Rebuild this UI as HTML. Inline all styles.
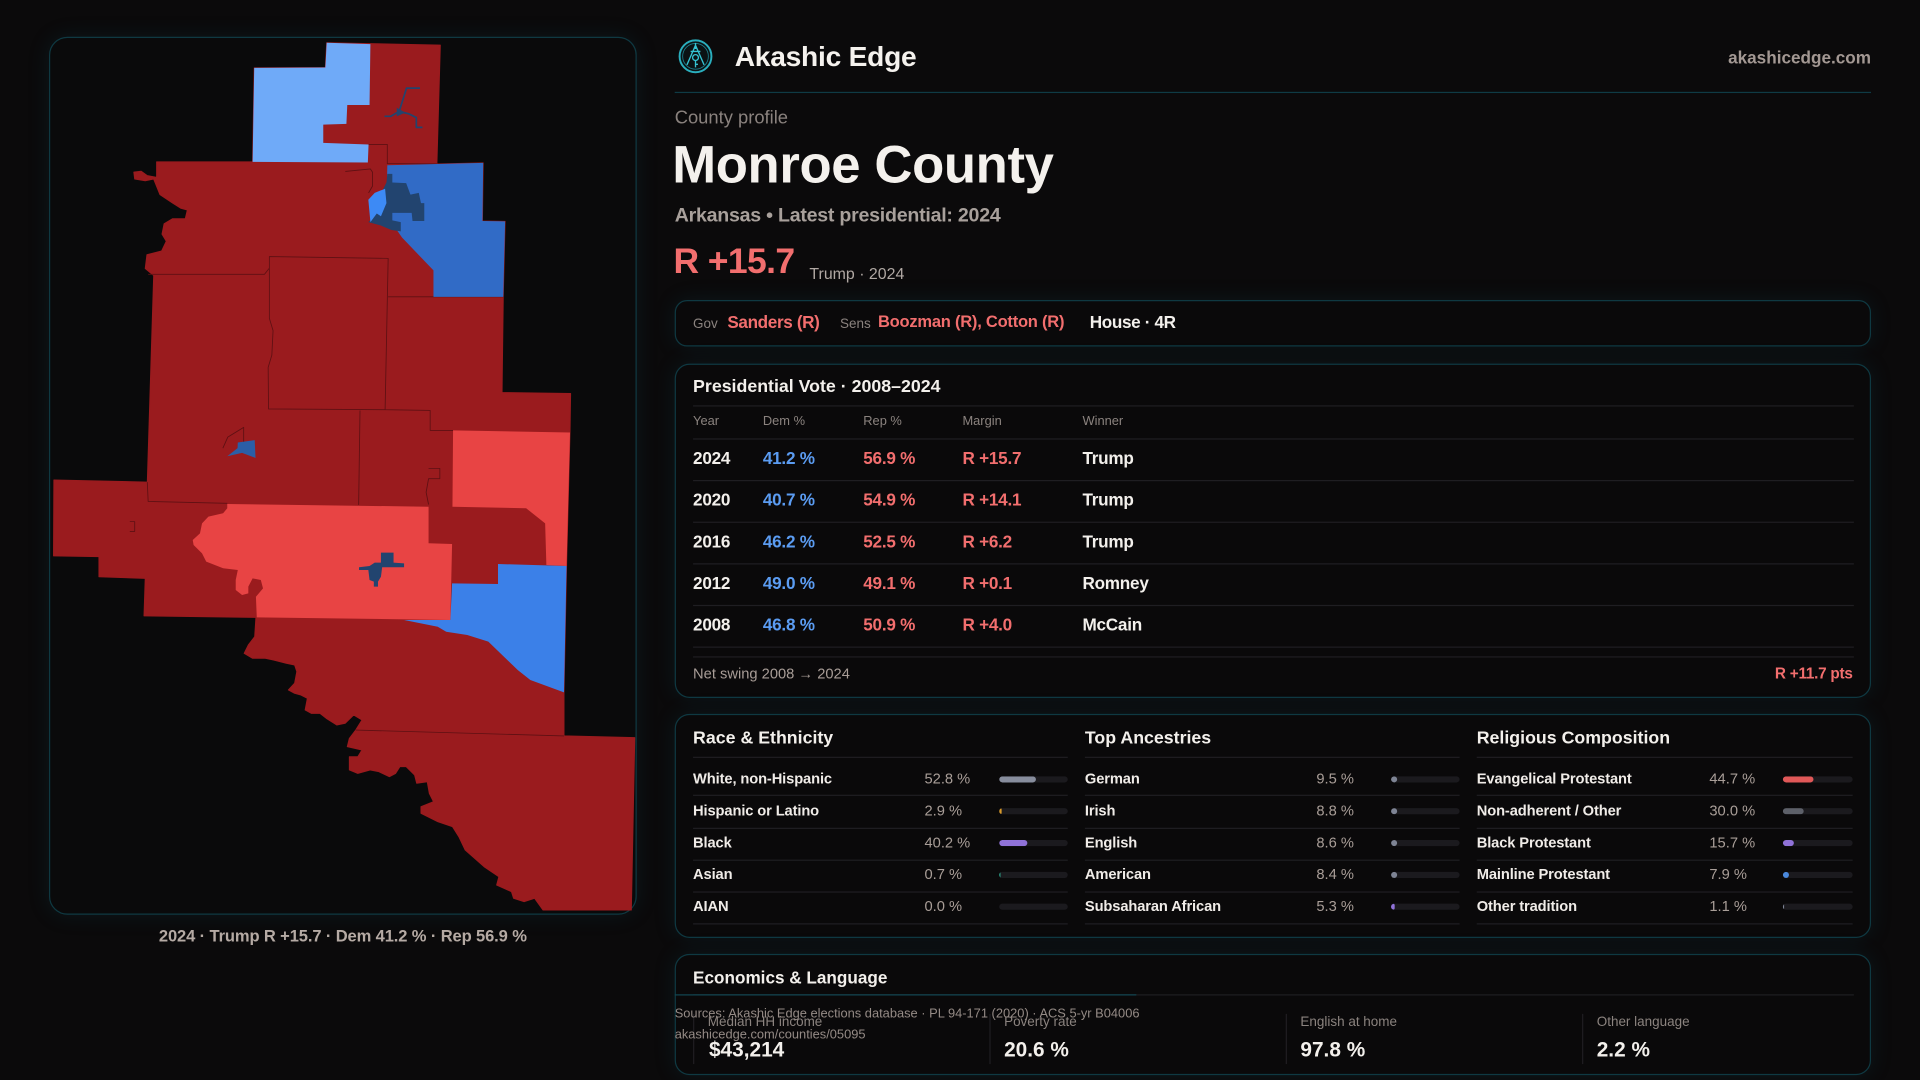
<!DOCTYPE html>
<html><head><meta charset="utf-8">
<style>
html,body{margin:0;padding:0;background:#0b0a0b;width:1920px;height:1080px;overflow:hidden}
#root{position:absolute;left:0;top:0;width:1568px;height:882px;transform:scale(1.2244898);transform-origin:0 0;font-family:"Liberation Sans",sans-serif;color:#f3f0ec}
.t{position:absolute;white-space:nowrap;line-height:1}
.b{font-weight:bold}
.box{position:absolute;box-sizing:border-box;border:1px solid #0f3942;border-radius:12px;background:#0a090a;box-shadow:0 0 18px rgba(20,95,110,0.16)}
.ln{position:absolute;height:1px;background:#1f1e22}
.red{color:#f26e6e}
.blue{color:#5b9cf2}
.gry{color:#8b837f}
.hd{font-size:10.5px;color:#8b837f}
.row{font-size:14px;font-weight:bold;letter-spacing:-0.2px}
.lbl{font-size:12px;font-weight:bold;color:#f0ece8;letter-spacing:-0.1px}
.val{font-size:12px;color:#a99e98}
.bar{position:absolute;width:56px;height:5px;border-radius:3px;background:#1b1a1e;overflow:hidden}
.bar i{display:block;height:100%;border-radius:3px;min-width:1px}
.cell{position:absolute;top:828px;height:41px;border-left:1px solid #1f1e22;width:241px}
.sl{font-size:11px;color:#8b837f}
.sv{font-size:17px;font-weight:bold;color:#f3f0ec}
.src{font-size:10.5px;color:#958b86}
</style></head>
<body><div id="root">

<!-- Map panel -->
<div class="box" style="left:40px;top:30px;width:480px;height:717px;border-radius:15px;background:#0a0a0b"></div>
<svg style="position:absolute;left:0;top:0" width="1568" height="882" viewBox="0 0 1568 882">
 <g stroke-linejoin="round">
 <path fill="#9a1b1e" stroke="#9a1b1e" stroke-width="0.8" d="M207.6,55.4 L265.7,55.1 L266.8,34.9 L359.6,36.8 L356.8,133.9 L394.6,133 L394,180.5 L412.5,180.8 L411,242.4 L410,320.6 L466,321.4 L465.5,353.2 L462.7,462.2 L460.6,565.4 L460.6,601 L518.4,602.4 L515.6,743.2 L443.5,743.2 L436.6,733.6 L428,736.4 L419.4,733.6 L417.7,728.2 L405.6,722.8 L407.4,716 L395.3,707.8 L379.9,694.2 L374.7,683.3 L369.5,675.1 L357.5,671 L343.8,664.2 L343.8,658.8 L354,654.7 L350.6,647.9 L348.9,638.4 L340.3,639.7 L338.6,632.9 L331.7,626.1 L326.6,626.1 L323.1,631.6 L318,634.3 L309.4,630.2 L302.5,628.8 L292.2,631.6 L285.3,628.8 L285.3,618 L292.2,618 L295.6,612.5 L283.6,609.8 L285.3,603 L290.5,596.2 L295.6,588 L288.8,583.9 L281.9,590.7 L275,592.1 L266.4,586.6 L261.3,582.6 L254.4,582.6 L249.2,579.8 L251,570.3 L245.8,567.6 L240.6,566.2 L235.5,563.5 L240.6,558 L242.4,548.5 L240.6,543.1 L233.8,541.7 L223.4,539 L216.6,537.6 L206.3,537.6 L199.4,533.6 L202.8,526.7 L208,520 L209,504.2 L117.6,503 L118.6,472.3 L80.8,471 L80.8,454.6 L43.7,454 L44,392 L120.3,393.7 L125.5,225 L118.6,219.3 L120,208 L132,205 L135.8,197 L132.3,191.2 L134,182.8 L141,178.6 L151.3,178.6 L153,171.5 L147.8,170.1 L141,165.9 L130.6,158.9 L125.5,146.2 L118.6,147.6 L110,146.2 L109.3,140.6 L115.2,139.8 L120.3,143.4 L127.9,144.8 L127.9,132.2 L206.3,132.2 Z"/>
 <!-- internal boundaries -->
 <path fill="none" stroke="#5e1013" stroke-width="0.7" d="M220,209.5 L317,211 L314.5,334.6 L219.3,334 L219,300 L222,290 L223,270 L220,260 Z M121,224 L216,224 L220,219 M317,242.4 L411,242.4 M314.5,334.6 L351.3,335.2 L351.3,351.5 L370,351.5 M294,335.2 L292.9,412.3 M120.3,393.7 L121,409.5 L185.6,411 M350,382.5 L359.2,382.5 L359.2,390.9 L350,390.9 L348,402 L350,412 M301,118 L316.3,118 L316.3,133.6 L356.8,133.9 M282,140 L302.5,138 L304.2,140.6 L304.2,152 L301,157.5 M290.5,596.2 L460.6,601 M182,366 L186,357 L199,349 L199,361 M106,426 L110,426 L110,434 L106,434"/>
 <polygon fill="#6faaf8" points="207.6,55.4 265.7,55.1 266.8,34.9 302.5,36 301.8,85.8 283.6,85.8 282.9,101.2 264,101.8 264,116.7 301,118 300.4,132.7 206.3,132.2"/>
 <polygon fill="#316bc6" points="316.3,135 394.6,133 394,180.5 412.5,180.8 411,242.4 354,242.4 354,220.8 328.3,194 320,182 316,150"/>
 <polygon fill="#22446f" points="316.3,142 320.4,142 320.4,149 331.7,149.6 335.2,158.9 342,157.5 343.8,165.9 346.5,165.9 346.5,180.5 336.9,180.5 336.2,173.8 320.4,173.8 320.4,180 327.3,181.4 327.3,189 319.7,187.8 311.1,184.2 300.8,181.4 307.7,174.4 309.4,163.1 312.8,154.7 315.6,149"/>
 <polygon fill="#3d8af5" points="300.8,163.1 306,157.5 314.5,154.1 315.6,165.9 311.1,176.6 307.7,174.4 302.5,181.4"/>
 <path fill="none" stroke="#23446e" stroke-width="1.4" d="M343,72 L332,72 L326,91 L319,95 L314,95 M326,91 L334,93 L340,96 L340,104 L345,104"/>
 <polygon fill="#23446e" points="324,88 331,92 324,95"/>
 <polygon fill="#e84444" points="370,351.5 465.5,353.2 462.7,462.2 446.2,461.4 445.2,427.4 429.7,415.1 369.5,413.8"/>
 <polygon fill="#e84444" points="185.6,411.6 350,413.8 350,443.7 369.2,444.3 367.8,506.3 209.7,504.2 209,487.3 214.8,480.5 213,473.7 206.3,472.3 202.8,479.1 202.8,484.6 197.7,485.9 192.5,481.8 192.5,473.7 194.2,465.5 182.2,464.1 168.4,458.7 165,451.9 158.1,445.1 157.4,441 163.3,435.6 165,427.4 170.2,421.9 182.2,419.2 185.6,415.1"/>
 <polygon fill="#3b80e8" points="369.2,476.4 406.7,476.9 406.7,460.6 462.7,462.2 460.6,565.4 433.1,555.3 422.8,547.2 398.8,524 381.6,518.6 364.4,515.9 357.5,511.8 330,506.3 367.8,506.3"/>
 <polygon fill="#22446f" points="311.1,451.3 321.4,451.3 321.4,459.5 330,460.1 330,463.3 319.7,463.3 312.1,463.3 311.1,471 308.7,475 308.7,479.1 305.3,479.1 305.3,475 301.8,473.7 300.8,465.5 293.2,465.5 293.2,463.3 301.8,462.2 306,459.5 311.1,459.5"/>
 <polygon fill="#2b5ea6" points="194.2,361.4 208,359.4 208.7,374 197.7,369.8 185.6,372.6 194,366"/>
 </g>
</svg>
<div class="t b" style="left:40px;width:480px;text-align:center;top:758px;font-size:13.5px;color:#b5aaa4;letter-spacing:-0.1px">2024 · Trump R +15.7 · Dem 41.2 % · Rep 56.9 %</div>

<!-- Header -->
<svg style="position:absolute;left:553px;top:31px" width="30" height="30" viewBox="-15 -15 30 30">
 <circle r="13" fill="#0b1214" stroke="#2aaebd" stroke-width="1.6"/>
 <circle r="10.5" fill="none" stroke="#1d7f8c" stroke-width="0.7"/>
 <path d="M0,-9 L-7,7 M0,-9 L7,7 M-4,-4 L4,-4 M0,-11 L0,-6" stroke="#35c3d2" stroke-width="1.1" fill="none"/>
 <circle cx="0" cy="1" r="2.4" fill="none" stroke="#35c3d2" stroke-width="1.1"/>
 <path d="M0,3.4 L0,9 M0,6.5 L2,6.5" stroke="#35c3d2" stroke-width="1.1"/>
</svg>
<div class="t b" style="left:600px;top:34.5px;font-size:23px;letter-spacing:-0.2px;color:#f5f2ee">Akashic Edge</div>
<div class="t b" style="right:40px;top:40px;font-size:14px;color:#a39893">akashicedge.com</div>
<div style="position:absolute;left:551px;top:75px;width:977px;height:1px;background:#0f3b45"></div>

<div class="t" style="left:551px;top:88.5px;font-size:15px;color:#8a827e">County profile</div>
<div class="t b" style="left:549px;top:113.5px;font-size:43px;letter-spacing:-0.3px;color:#f4f1ed">Monroe County</div>
<div class="t b" style="left:551px;top:169px;font-size:16px;color:#a8a09b;letter-spacing:-0.2px">Arkansas • Latest presidential: 2024</div>
<div class="t b red" style="left:550px;top:200px;font-size:29px;letter-spacing:-0.5px;color:#f26e6e">R +15.7</div>
<div class="t" style="left:661px;top:216.5px;font-size:13px;color:#b0a8a3">Trump · 2024</div>

<!-- Gov box -->
<div class="box" style="left:551px;top:245px;width:977px;height:38px;border-radius:10px"></div>
<div class="t gry" style="left:566px;top:259.5px;font-size:11px">Gov</div>
<div class="t b red" style="left:594px;top:256px;font-size:14px;letter-spacing:-0.3px">Sanders (R)</div>
<div class="t gry" style="left:686px;top:259.5px;font-size:11px">Sens</div>
<div class="t b red" style="left:717px;top:256px;font-size:13.5px;letter-spacing:-0.2px">Boozman (R), Cotton (R)</div>
<div class="t b" style="left:890px;top:256px;font-size:14px;letter-spacing:-0.3px;color:#f3f0ec">House · 4R</div>

<!-- Presidential table -->
<div class="box" style="left:551px;top:297px;width:977px;height:273px"></div>
<div class="t b" style="left:566px;top:309px;font-size:14.5px">Presidential Vote · 2008–2024</div>
<div class="ln" style="left:566px;top:331px;width:948px"></div>
<div class="t hd" style="left:566px;top:338.5px">Year</div>
<div class="t hd" style="left:623px;top:338.5px">Dem %</div>
<div class="t hd" style="left:705px;top:338.5px">Rep %</div>
<div class="t hd" style="left:786px;top:338.5px">Margin</div>
<div class="t hd" style="left:884px;top:338.5px">Winner</div>
<div class="ln" style="left:566px;top:358px;width:948px"></div>

<div class="t row" style="left:566px;top:367px">2024</div>
<div class="t row blue" style="left:623px;top:367px">41.2 %</div>
<div class="t row red" style="left:705px;top:367px">56.9 %</div>
<div class="t row red" style="left:786px;top:367px">R +15.7</div>
<div class="t row" style="left:884px;top:367px">Trump</div>
<div class="ln" style="left:566px;top:392px;width:948px"></div>

<div class="t row" style="left:566px;top:401px">2020</div>
<div class="t row blue" style="left:623px;top:401px">40.7 %</div>
<div class="t row red" style="left:705px;top:401px">54.9 %</div>
<div class="t row red" style="left:786px;top:401px">R +14.1</div>
<div class="t row" style="left:884px;top:401px">Trump</div>
<div class="ln" style="left:566px;top:425.5px;width:948px"></div>

<div class="t row" style="left:566px;top:435px">2016</div>
<div class="t row blue" style="left:623px;top:435px">46.2 %</div>
<div class="t row red" style="left:705px;top:435px">52.5 %</div>
<div class="t row red" style="left:786px;top:435px">R +6.2</div>
<div class="t row" style="left:884px;top:435px">Trump</div>
<div class="ln" style="left:566px;top:460px;width:948px"></div>

<div class="t row" style="left:566px;top:469px">2012</div>
<div class="t row blue" style="left:623px;top:469px">49.0 %</div>
<div class="t row red" style="left:705px;top:469px">49.1 %</div>
<div class="t row red" style="left:786px;top:469px">R +0.1</div>
<div class="t row" style="left:884px;top:469px">Romney</div>
<div class="ln" style="left:566px;top:494px;width:948px"></div>

<div class="t row" style="left:566px;top:503px">2008</div>
<div class="t row blue" style="left:623px;top:503px">46.8 %</div>
<div class="t row red" style="left:705px;top:503px">50.9 %</div>
<div class="t row red" style="left:786px;top:503px">R +4.0</div>
<div class="t row" style="left:884px;top:503px">McCain</div>
<div class="ln" style="left:566px;top:527.5px;width:948px"></div>
<div class="ln" style="left:566px;top:535.5px;width:948px"></div>
<div class="t" style="left:566px;top:544px;font-size:12px;color:#a89d97">Net swing 2008 → 2024</div>
<div class="t b red" style="right:55px;top:544px;font-size:12.5px;letter-spacing:-0.2px">R +11.7 pts</div>

<!-- Demographics -->
<div class="box" style="left:551px;top:583px;width:977px;height:183px"></div>
<div class="t b" style="left:566px;top:596px;font-size:14.5px">Race &amp; Ethnicity</div>
<div class="t b" style="left:886px;top:596px;font-size:14.5px">Top Ancestries</div>
<div class="t b" style="left:1206px;top:596px;font-size:14.5px">Religious Composition</div>

<!-- lines col1 -->
<div class="ln" style="left:566px;top:618px;width:306px"></div>
<div class="ln" style="left:566px;top:649px;width:306px"></div>
<div class="ln" style="left:566px;top:675.5px;width:306px"></div>
<div class="ln" style="left:566px;top:701.5px;width:306px"></div>
<div class="ln" style="left:566px;top:727.5px;width:306px"></div>
<div class="ln" style="left:566px;top:753.5px;width:306px"></div>
<!-- lines col2 -->
<div class="ln" style="left:886px;top:618px;width:306px"></div>
<div class="ln" style="left:886px;top:649px;width:306px"></div>
<div class="ln" style="left:886px;top:675.5px;width:306px"></div>
<div class="ln" style="left:886px;top:701.5px;width:306px"></div>
<div class="ln" style="left:886px;top:727.5px;width:306px"></div>
<div class="ln" style="left:886px;top:753.5px;width:306px"></div>
<!-- lines col3 -->
<div class="ln" style="left:1206px;top:618px;width:307px"></div>
<div class="ln" style="left:1206px;top:649px;width:307px"></div>
<div class="ln" style="left:1206px;top:675.5px;width:307px"></div>
<div class="ln" style="left:1206px;top:701.5px;width:307px"></div>
<div class="ln" style="left:1206px;top:727.5px;width:307px"></div>
<div class="ln" style="left:1206px;top:753.5px;width:307px"></div>

<!-- Race -->
<div class="t lbl" style="left:566px;top:630px">White, non-Hispanic</div>
<div class="t val" style="left:755px;top:630px">52.8 %</div>
<div class="bar" style="left:816px;top:633.5px"><i style="width:52.8%;background:#878d9d"></i></div>
<div class="t lbl" style="left:566px;top:656px">Hispanic or Latino</div>
<div class="t val" style="left:755px;top:656px">2.9 %</div>
<div class="bar" style="left:816px;top:659.5px"><i style="width:2.9%;background:#d99a2b"></i></div>
<div class="t lbl" style="left:566px;top:682px">Black</div>
<div class="t val" style="left:755px;top:682px">40.2 %</div>
<div class="bar" style="left:816px;top:685.5px"><i style="width:40.2%;background:#9072d8"></i></div>
<div class="t lbl" style="left:566px;top:708px">Asian</div>
<div class="t val" style="left:755px;top:708px">0.7 %</div>
<div class="bar" style="left:816px;top:711.5px"><i style="width:1px;background:#2fb79a"></i></div>
<div class="t lbl" style="left:566px;top:734px">AIAN</div>
<div class="t val" style="left:755px;top:734px">0.0 %</div>
<div class="bar" style="left:816px;top:737.5px"></div>

<!-- Ancestry -->
<div class="t lbl" style="left:886px;top:630px">German</div>
<div class="t val" style="left:1075px;top:630px">9.5 %</div>
<div class="bar" style="left:1136px;top:633.5px"><i style="width:9.5%;background:#7e8494"></i></div>
<div class="t lbl" style="left:886px;top:656px">Irish</div>
<div class="t val" style="left:1075px;top:656px">8.8 %</div>
<div class="bar" style="left:1136px;top:659.5px"><i style="width:8.8%;background:#7e8494"></i></div>
<div class="t lbl" style="left:886px;top:682px">English</div>
<div class="t val" style="left:1075px;top:682px">8.6 %</div>
<div class="bar" style="left:1136px;top:685.5px"><i style="width:8.6%;background:#7e8494"></i></div>
<div class="t lbl" style="left:886px;top:708px">American</div>
<div class="t val" style="left:1075px;top:708px">8.4 %</div>
<div class="bar" style="left:1136px;top:711.5px"><i style="width:8.4%;background:#7e8494"></i></div>
<div class="t lbl" style="left:886px;top:734px">Subsaharan African</div>
<div class="t val" style="left:1075px;top:734px">5.3 %</div>
<div class="bar" style="left:1136px;top:737.5px"><i style="width:5.3%;background:#9072d8"></i></div>

<!-- Religion -->
<div class="t lbl" style="left:1206px;top:630px">Evangelical Protestant</div>
<div class="t val" style="left:1396px;top:630px">44.7 %</div>
<div class="bar" style="left:1456px;top:633.5px;width:57px"><i style="width:44.7%;background:#e05858"></i></div>
<div class="t lbl" style="left:1206px;top:656px">Non-adherent / Other</div>
<div class="t val" style="left:1396px;top:656px">30.0 %</div>
<div class="bar" style="left:1456px;top:659.5px;width:57px"><i style="width:30%;background:#5d6069"></i></div>
<div class="t lbl" style="left:1206px;top:682px">Black Protestant</div>
<div class="t val" style="left:1396px;top:682px">15.7 %</div>
<div class="bar" style="left:1456px;top:685.5px;width:57px"><i style="width:15.7%;background:#9072d8"></i></div>
<div class="t lbl" style="left:1206px;top:708px">Mainline Protestant</div>
<div class="t val" style="left:1396px;top:708px">7.9 %</div>
<div class="bar" style="left:1456px;top:711.5px;width:57px"><i style="width:7.9%;background:#4a88dc"></i></div>
<div class="t lbl" style="left:1206px;top:734px">Other tradition</div>
<div class="t val" style="left:1396px;top:734px">1.1 %</div>
<div class="bar" style="left:1456px;top:737.5px;width:57px"><i style="width:1px;background:#7e8494"></i></div>

<!-- Economics -->
<div class="box" style="left:551px;top:779px;width:977px;height:99px"></div>
<div class="t b" style="left:566px;top:791px;font-size:14px">Economics &amp; Language</div>
<div class="ln" style="left:566px;top:812px;width:948px"></div>
<div style="position:absolute;left:551px;top:812px;width:377px;height:1px;background:#124652"></div>
<div class="cell" style="left:566px"></div>
<div class="cell" style="left:808px"></div>
<div class="cell" style="left:1050px"></div>
<div class="cell" style="left:1292px"></div>
<div class="t sl" style="left:578px;top:829.5px">Median HH income</div>
<div class="t sv" style="left:579px;top:848.5px">$43,214</div>
<div class="t sl" style="left:820px;top:829.5px">Poverty rate</div>
<div class="t sv" style="left:820px;top:848.5px">20.6 %</div>
<div class="t sl" style="left:1062px;top:829.5px">English at home</div>
<div class="t sv" style="left:1062px;top:848.5px">97.8 %</div>
<div class="t sl" style="left:1304px;top:829.5px">Other language</div>
<div class="t sv" style="left:1304px;top:848.5px">2.2 %</div>

<div class="t src" style="left:551px;top:822.5px">Sources: Akashic Edge elections database · PL 94-171 (2020) · ACS 5-yr B04006</div>
<div class="t src" style="left:551px;top:839.5px">akashicedge.com/counties/05095</div>

</div></body></html>
